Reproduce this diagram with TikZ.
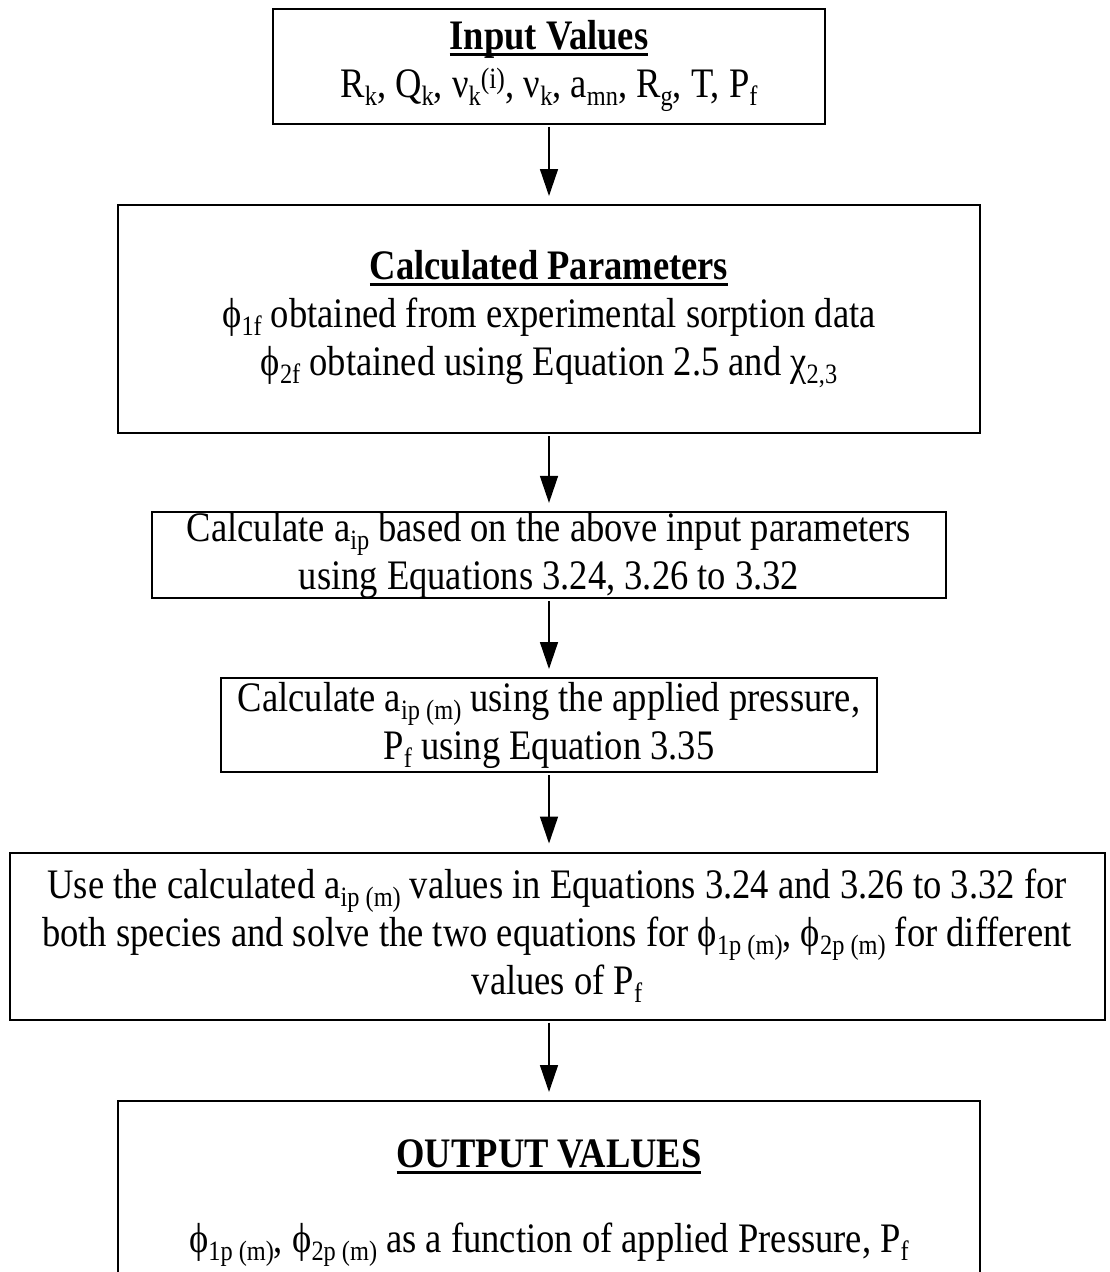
\documentclass[tikz,border=0pt]{standalone}
\usepackage{fontspec}
\setmainfont[FakeStretch=0.87]{Liberation Serif}
\usetikzlibrary{arrows.meta}

% bold heading with a heavy underline
\newcommand{\heavyul}[1]{\setbox0=\hbox{#1}\leavevmode\rlap{\rule[-7pt]{\wd0}{3.5pt}}\box0}
% text subscript, lowered a little less than the default
\newcommand{\sub}[1]{\raisebox{-0.2em}{\fontsize{28}{28}\selectfont #1}}

\begin{document}
\begin{tikzpicture}[x=1pt,y=-1pt,
  flowbox/.style={draw, line width=2pt, rectangle, align=center, inner sep=0pt,
    font=\fontsize{42}{48}\selectfont},
  flowarrow/.style={line width=1.5pt, -{Triangle[width=18pt,length=27pt]},
    shorten <=2pt, shorten >=8pt}]
\useasboundingbox (0,0) rectangle (1109,1272);
\clip (0,0) rectangle (1109,1272);

\node[flowbox, minimum width=552pt, minimum height=115pt] (inp) at (549,66)
  {\heavyul{\textbf{Input Values}}\\
   R\sub{k}, Q\sub{k}, ν\sub{k}\textsuperscript{(i)}, ν\sub{k}, a\sub{mn}, R\sub{g}, T, P\sub{f}};

\node[flowbox, minimum width=862pt, minimum height=228pt] (par) at (549,319)
  {\heavyul{\textbf{Calculated Parameters}}\\
   ϕ\sub{1f} obtained from experimental sorption data\\
   ϕ\sub{2f} obtained using Equation 2.5 and χ\sub{2,3}};

\node[flowbox, minimum width=794pt, minimum height=85pt] (aip) at (549,555)
  {Calculate a\sub{ip} based on the above input parameters\\
   using Equations 3.24, 3.26 to 3.32};

\node[flowbox, minimum width=656pt, minimum height=94pt] (aipm) at (549,725)
  {Calculate a\sub{ip (m)} using the applied pressure,\\
   P\sub{f} using Equation 3.35};

\node[flowbox, minimum width=1095pt, minimum height=167pt] (solve) at (557,936)
  {Use the calculated a\sub{ip (m)} values in Equations 3.24 and 3.26 to 3.32 for\\
   both species and solve the two equations for ϕ\sub{1p (m)}, ϕ\sub{2p (m)} for different\\
   values of P\sub{f}};

\node[flowbox, minimum width=862pt, minimum height=204pt] (out) at (549,1203)
  {\heavyul{\textbf{OUTPUT VALUES}}\\[37pt]
   ϕ\sub{1p (m)}, ϕ\sub{2p (m)} as a function of applied Pressure, P\sub{f}};

\draw[flowarrow] (inp.south) -- (inp.south |- par.north);
\draw[flowarrow] (par.south) -- (par.south |- aip.north);
\draw[flowarrow] (aip.south) -- (aip.south |- aipm.north);
\draw[flowarrow] (aipm.south) -- (aipm.south |- solve.north);
\draw[flowarrow] (aipm.south |- solve.south) -- (aipm.south |- out.north);
\end{tikzpicture}
\end{document}
